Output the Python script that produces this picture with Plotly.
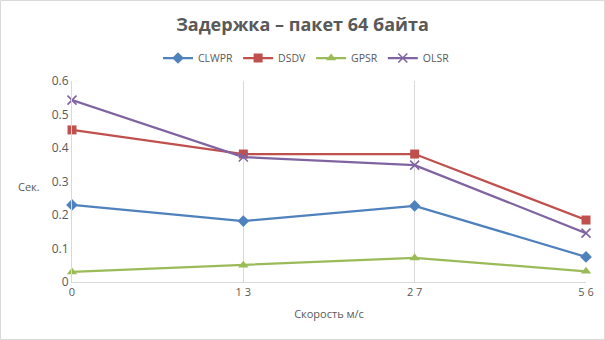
import plotly.graph_objects as go

# Speed categories (m/s) and their axis labels
speeds = ["0", "13", "27", "56"]
speed_labels = ["0", "1 3", "2 7", "5 6"]

# Mean delay, seconds, 64-byte packets
clwpr = [0.230, 0.182, 0.227, 0.075]
dsdv = [0.454, 0.382, 0.382, 0.185]
gpsr = [0.030, 0.050, 0.072, 0.032]
olsr = [0.543, 0.373, 0.349, 0.146]

# Y-axis ticks
y_ticks = [0, 0.1, 0.2, 0.3, 0.4, 0.5, 0.6]
y_tick_labels = ["0", "0.1", "0.2", "0.3", "0.4", "0.5", "0.6"]

W, H = 605, 340
L, R, T, B = 72, 19, 81, 58
pw, ph = W - L - R, H - T - B

grey = "#595959"
font = "Open Sans"

series = [
    ("CLWPR", clwpr, "#4F81BD", dict(symbol="diamond", size=9)),
    ("DSDV", dsdv, "#C0504D", dict(symbol="square", size=9)),
    ("GPSR", gpsr, "#9BBB59", dict(symbol="triangle-up", size=9)),
    ("OLSR", olsr, "#8064A2", dict(symbol="x-thin", size=9,
                                   line=dict(width=1.6, color="#8064A2"))),
]

fig = go.Figure()
for name, vals, color, marker in series:
    fig.add_trace(go.Scatter(
        x=speeds, y=vals, name=name, mode="lines+markers",
        line=dict(color=color, width=2.25),
        marker=dict(color=color, **marker),
        cliponaxis=False,
    ))

fig.update_layout(
    width=W, height=H,
    margin=dict(l=L, r=R, t=T, b=B),
    paper_bgcolor="white", plot_bgcolor="white",
    font=dict(family=font, color=grey, size=11),
    title=dict(text="<b>Задержка – пакет 64 байта</b>",
               x=0.5, xanchor="center", y=1 - 25 / H, yanchor="middle",
               font=dict(size=18, color=grey, family=font)),
    legend=dict(orientation="h", x=(158 - L) / pw, xanchor="left",
                y=1 + (81 - 58) / ph, yanchor="middle",
                font=dict(size=10.5, color=grey), itemwidth=30,
                tracegroupgap=0),
    showlegend=True,
)

fig.update_xaxes(
    type="category", range=[0, 3],
    tickvals=speeds, ticktext=speed_labels,
    showgrid=True, gridcolor="#d9d9d9", gridwidth=1,
    showline=True, linecolor="#d9d9d9", linewidth=1,
    ticks="", tickfont=dict(size=11, color=grey),
    title=dict(text="Скорость м/с", font=dict(size=11, color=grey), standoff=12),
    zeroline=False,
)
fig.update_yaxes(
    range=[0, 0.6], tickvals=y_ticks, ticktext=y_tick_labels,
    showgrid=False, showline=True, linecolor="#d9d9d9", linewidth=1,
    ticks="", tickfont=dict(size=12, color=grey), zeroline=False,
)

# Horizontal y-axis title
fig.add_annotation(text="Сек.", xref="paper", yref="paper",
                   x=(29 - L) / pw, y=(H - B - 186) / ph,
                   xanchor="center", yanchor="middle",
                   showarrow=False, font=dict(size=11, color=grey))

# Chart border
fig.add_shape(type="rect", xref="paper", yref="paper",
              x0=(0.5 - L) / pw, x1=(W - 0.5 - L) / pw,
              y0=-(B - 0.5) / ph, y1=1 + (T - 0.5) / ph,
              line=dict(color="#d9d9d9", width=1), layer="below")

fig.write_html("out.html")
